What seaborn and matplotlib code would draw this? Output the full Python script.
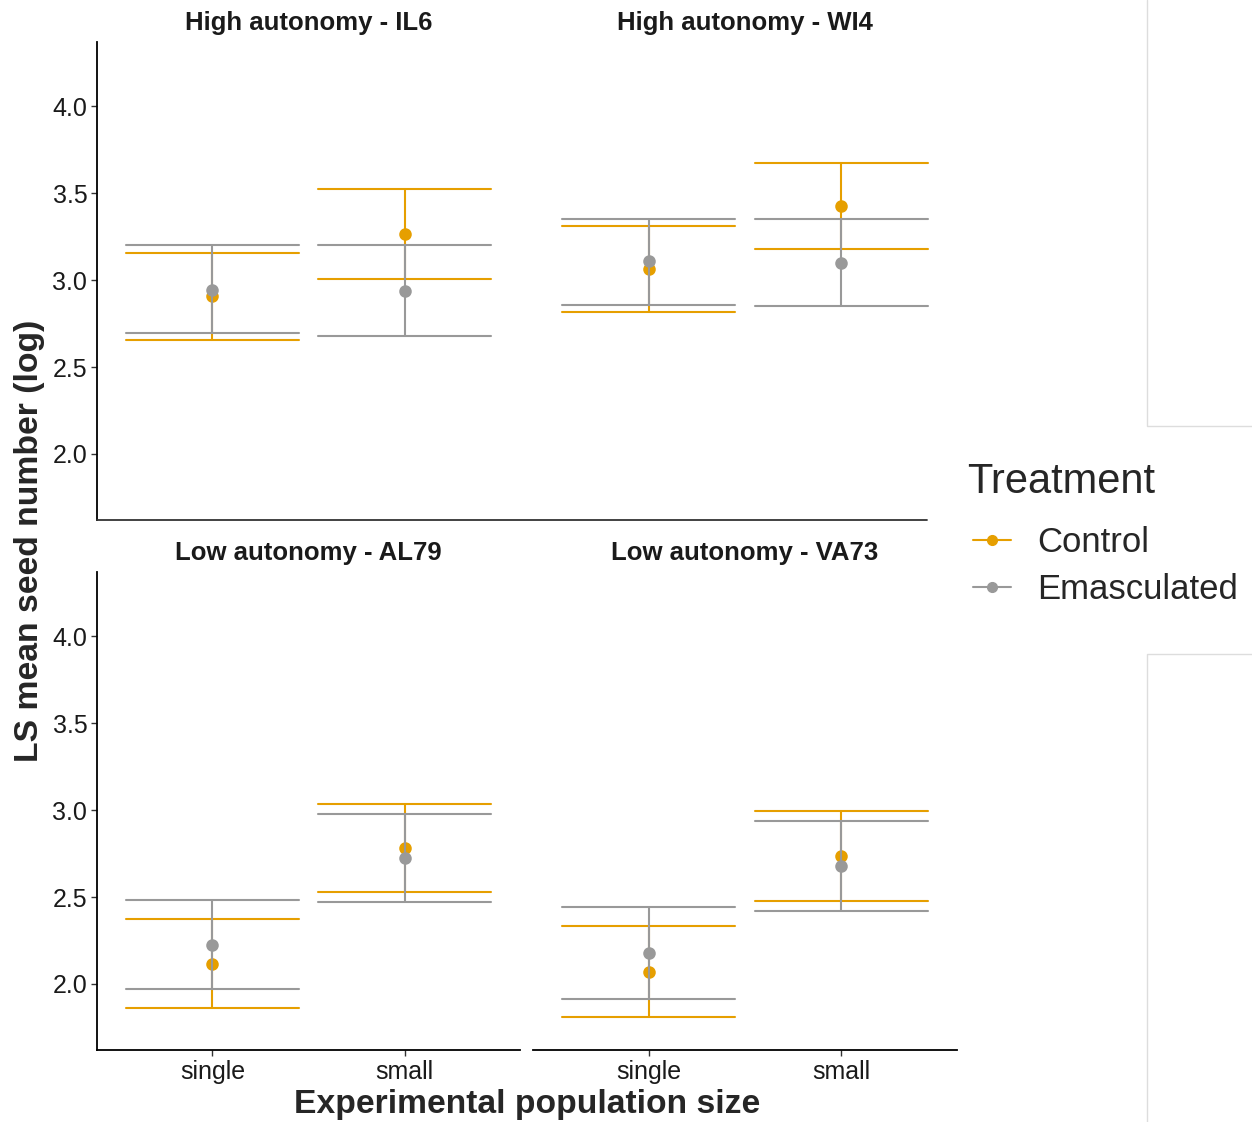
import numpy as np
import pandas as pd
import matplotlib
matplotlib.use("Agg")
import matplotlib.pyplot as plt
from matplotlib.lines import Line2D
import seaborn as sns

# ---------------- data ----------------
panels = ["High autonomy - IL6", "High autonomy - WI4",
          "Low autonomy - AL79", "Low autonomy - VA73"]
sizes = ["single", "small"]
treatments = ["Control", "Emasculated"]

# order: IL6 single, IL6 small, WI4 single, WI4 small, AL79 single, AL79 small, VA73 single, VA73 small
control_mean = [2.907, 3.265, 3.065, 3.426, 2.117, 2.780, 2.071, 2.734]
control_lower = [2.657, 3.006, 2.818, 3.178, 1.863, 2.528, 1.808, 2.475]
control_upper = [3.156, 3.525, 3.311, 3.675, 2.376, 3.034, 2.336, 2.994]
emasc_mean = [2.946, 2.940, 3.109, 3.101, 2.225, 2.723, 2.177, 2.676]
emasc_lower = [2.697, 2.679, 2.859, 2.849, 1.969, 2.469, 1.914, 2.418]
emasc_upper = [3.200, 3.204, 3.354, 3.352, 2.482, 2.979, 2.440, 2.935]

yticks = [2.0, 2.5, 3.0, 3.5, 4.0]
colors = {"Control": "#E69F00", "Emasculated": "#999999"}

rows = []
series = {"Control": (control_lower, control_mean, control_upper),
          "Emasculated": (emasc_lower, emasc_mean, emasc_upper)}
for t, (lo, me, up) in series.items():
    for i in range(len(me)):
        p = panels[i // 2]
        s = sizes[i % 2]
        for v in (lo[i], me[i], up[i]):
            rows.append({"panel": p, "size": s, "Treatment": t, "value": v})
df = pd.DataFrame(rows)

# ---------------- style ----------------
sns.set_style("white")
plt.rcParams["font.family"] = ["Liberation Sans", "DejaVu Sans"]

W, H = 1252, 1122
fig = plt.figure(figsize=(W / 100, H / 100), dpi=100)

def fx(px):
    return px / W

def fy(py):
    return 1 - py / H

boxes = {
    0: (97, 520, 42, 520),
    1: (533, 957, 42, 520),
    2: (97, 520, 572, 1050),
    3: (533, 957, 572, 1050),
}

for k, p in enumerate(panels):
    x0, x1, y0, y1 = boxes[k]
    ax = fig.add_axes([fx(x0), fy(y1), fx(x1 - x0), (y1 - y0) / H])
    sub = df[df["panel"] == p]
    sns.pointplot(data=sub, x="size", y="value", hue="Treatment",
                  order=sizes, hue_order=treatments, palette=colors,
                  estimator="median", errorbar=lambda v: (v.min(), v.max()),
                  capsize=0.9, dodge=False, linestyle="none",
                  markersize=7, err_kws={"linewidth": 1.5},
                  legend=False, ax=ax)
    ax.set_xlim(-0.6, 1.6)
    ax.set_ylim(1.62, 4.37)
    ax.set_yticks(yticks)
    ax.set_yticklabels([f"{v:.1f}" for v in yticks])
    ax.set_xlabel("")
    ax.set_ylabel("")
    ax.set_title(p, fontsize=18.5, fontweight="bold", pad=8.6, color="#1a1a1a")
    for side in ["top", "right"]:
        ax.spines[side].set_visible(False)
    for side in ["left", "bottom"]:
        ax.spines[side].set_color("black")
        ax.spines[side].set_linewidth(1.3)
    ax.tick_params(axis="both", labelsize=18, colors="#333333",
                   labelcolor="#1a1a1a", length=4, width=1.0, pad=3)
    ax.grid(False)
    if k in (1, 3):
        ax.spines["left"].set_visible(False)
        ax.tick_params(axis="y", left=False, labelleft=False)
    else:
        ax.tick_params(axis="y", left=True)
    if k in (0, 1):
        ax.spines["bottom"].set_visible(False)
        ax.tick_params(axis="x", bottom=False, labelbottom=False)
    else:
        ax.tick_params(axis="x", bottom=True)

# continuous axis line under the top row
fig.add_artist(Line2D([fx(97), fx(927)], [fy(520), fy(520)], color="#333333",
                      linewidth=1.3, transform=fig.transFigure))

# faint frame fragments at the right edge
for xs, ys in [([1147, 1147, 1252], [0, 426, 426]),
               ([1147, 1147, 1252], [1122, 654, 654])]:
    fig.add_artist(Line2D([fx(x) for x in xs], [fy(y) for y in ys],
                          color="#dddddd", linewidth=1.0,
                          transform=fig.transFigure))

fig.text(fx(30), fy(541), "LS mean seed number (log)", rotation=90,
         ha="center", va="center", fontsize=24.3, fontweight="bold")
fig.text(fx(527), fy(1113), "Experimental population size",
         ha="center", va="baseline", fontsize=24.2, fontweight="bold")

# legend
fig.text(fx(967), fy(493), "Treatment", ha="left", va="baseline",
         fontsize=30)
handles = [Line2D([0], [0], color=colors[t], marker="o", markersize=7,
                  linewidth=1.5) for t in treatments]
fig.legend(handles, treatments, loc="upper left",
           bbox_to_anchor=(fx(942), fy(495)), frameon=False,
           fontsize=25, handlelength=1.1, handletextpad=0.75,
           labelspacing=0.4)

fig.savefig("out.png", dpi=100)
